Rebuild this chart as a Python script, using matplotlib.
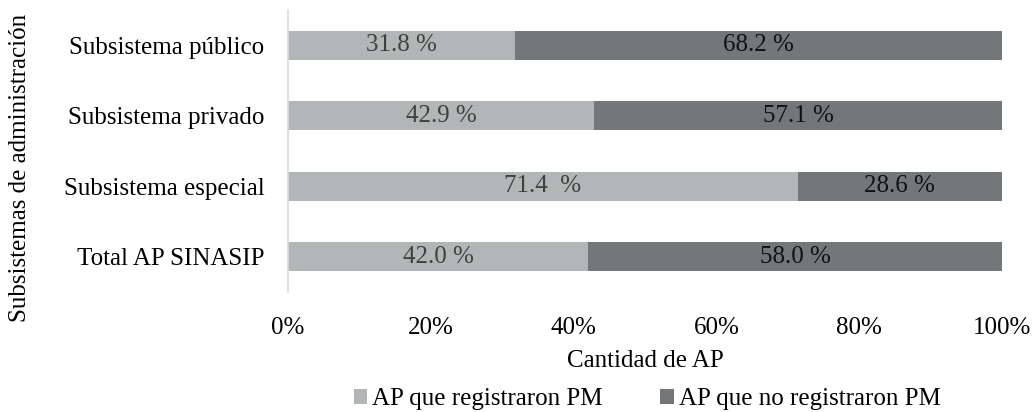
import matplotlib.pyplot as plt

plt.rcParams['font.family'] = ['Liberation Serif', 'DejaVu Serif']

categories = ["Subsistema público", "Subsistema privado", "Subsistema especial", "Total AP SINASIP"]
registraron = [31.8, 42.9, 71.4, 42.0]
no_registraron = [68.2, 57.1, 28.6, 58.0]
labels_reg = ["31.8 %", "42.9 %", "71.4  %", "42.0 %"]
labels_no = ["68.2 %", "57.1 %", "28.6 %", "58.0 %"]
xticks = [0, 20, 40, 60, 80, 100]

light = "#b3b6b7"
dark = "#74777a"
fs = 18

fig = plt.figure(figsize=(10.34, 4.12), dpi=100)
ax = fig.add_axes([288 / 1034, 1 - 292 / 412, (1002 - 288) / 1034, 282 / 412])

y = list(range(len(categories)))
b1 = ax.barh(y, registraron, height=0.41, color=light, label="AP que registraron PM")
b2 = ax.barh(y, no_registraron, left=registraron, height=0.41, color=dark,
             label="AP que no registraron PM")

for i in y:
    ax.text(registraron[i] / 2, i, labels_reg[i], ha="center", va="center",
            fontsize=fs, color="#404040")
    ax.text(registraron[i] + no_registraron[i] / 2, i, labels_no[i], ha="center",
            va="center", fontsize=fs, color="#111111")

ax.set_ylim(3.5, -0.5)
ax.set_xlim(0, 100)
ax.set_yticks(y)
ax.set_yticklabels(categories, fontsize=fs)
ax.set_xticks(xticks)
ax.set_xticklabels([f"{t}%" for t in xticks], fontsize=fs)
ax.tick_params(length=0)
ax.tick_params(axis="x", pad=18)
ax.tick_params(axis="y", pad=17)
for s in ["top", "right", "bottom"]:
    ax.spines[s].set_visible(False)
ax.spines["left"].set_color("#d9d9d9")
ax.spines["left"].set_linewidth(1.2)

ax.set_xlabel("Cantidad de AP", fontsize=fs, labelpad=8)
ax.set_ylabel("Subsistemas de administración", fontsize=fs, va="center")
ax.yaxis.set_label_coords(20 / 1034, 1 - 168 / 412, transform=fig.transFigure)

fig.legend(handles=[b1, b2], loc="lower center", bbox_to_anchor=(0.626, -0.05),
           ncol=2, frameon=False, fontsize=fs, handlelength=0.55, handleheight=0.55,
           handletextpad=0.2, columnspacing=2.3)

fig.savefig("out.png", dpi=100)
